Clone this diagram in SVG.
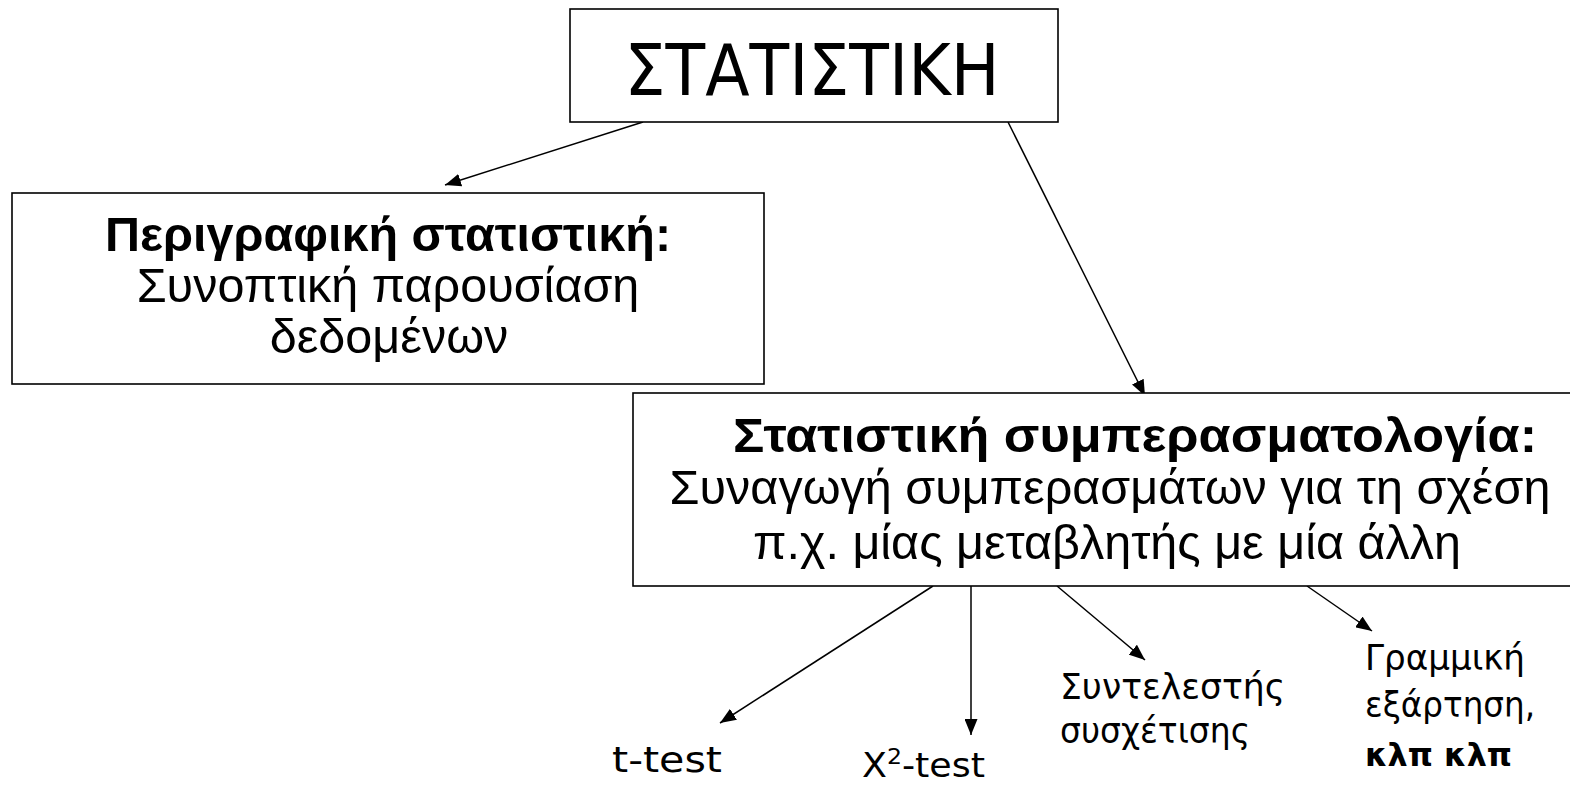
<svg xmlns="http://www.w3.org/2000/svg" width="1570" height="785" viewBox="0 0 1570 785">
<style>
.box{fill:#fff;stroke:#000;stroke-width:1.6}
.ar{stroke:#000;stroke-width:1.5;fill:none}
.sans{font-family:"Liberation Sans",Arial,sans-serif;fill:#000}
.b{font-weight:bold}
.comic{font-family:"Comic Sans MS","DejaVu Sans",sans-serif;fill:#000}
</style>
<defs>
<marker id="ah" markerUnits="userSpaceOnUse" markerWidth="17" markerHeight="13" refX="16" refY="6.5" orient="auto">
<path d="M0,0 L16,6.5 L0,13 z" fill="#000"/>
</marker>
</defs>
<rect width="1570" height="785" fill="#fff"/>
<g id="connectors">
<line class="ar" x1="643" y1="122" x2="445" y2="185" marker-end="url(#ah)"/>
<line class="ar" x1="1008" y1="122" x2="1145" y2="396" marker-end="url(#ah)"/>
<line class="ar" x1="933" y1="586" x2="720" y2="723" marker-end="url(#ah)"/>
<line class="ar" x1="971" y1="586" x2="971" y2="735" marker-end="url(#ah)"/>
<line class="ar" x1="1057" y1="586" x2="1145" y2="660" marker-end="url(#ah)"/>
<line class="ar" x1="1307" y1="586" x2="1372" y2="631" marker-end="url(#ah)"/>
</g>
<g id="statistiki">
<rect class="box" x="570" y="9" width="488" height="113"/>
<text class="sans" x="812" y="95" font-size="72" text-anchor="middle" style="font-family:'DejaVu Sans',sans-serif" textLength="375" lengthAdjust="spacingAndGlyphs">ΣΤΑΤΙΣΤΙΚΗ</text>
</g>
<g id="perigrafiki">
<rect class="box" x="12" y="193" width="752" height="191"/>
<text class="sans b" x="388" y="251" font-size="48.5" text-anchor="middle">Περιγραφική στατιστική:</text>
<text class="sans" x="388" y="302" font-size="48.5" text-anchor="middle">Συνοπτική παρουσίαση</text>
<text class="sans" x="389" y="353" font-size="48.5" text-anchor="middle">δεδομένων</text>
</g>
<g id="symperasmatologia">
<rect class="box" x="633" y="393" width="1010" height="193"/>
<text class="sans b" x="1135" y="452" font-size="48.5" text-anchor="middle" textLength="804" lengthAdjust="spacingAndGlyphs">Στατιστική συμπερασματολογία:</text>
<text class="sans" x="1110" y="504" font-size="48.5" text-anchor="middle">Συναγωγή συμπερασμάτων για τη σχέση</text>
<text class="sans" x="1107" y="559" font-size="48.5" text-anchor="middle">π.χ. μίας μεταβλητής με μία άλλη</text>
</g>
<g id="ttest">
<text class="comic" x="612" y="772" font-size="35" textLength="110" lengthAdjust="spacingAndGlyphs">t-test</text>
</g>
<g id="x2test">
<text class="comic" x="862" y="777" font-size="34" textLength="123" lengthAdjust="spacingAndGlyphs">X<tspan font-size="22" dy="-13">2</tspan><tspan dy="13">-test</tspan></text>
</g>
<g id="syntelestis">
<text class="comic" x="1060" y="699" font-size="35" textLength="225" lengthAdjust="spacingAndGlyphs">Συντελεστής</text>
<text class="comic" x="1060" y="743" font-size="35" textLength="190" lengthAdjust="spacingAndGlyphs">συσχέτισης</text>
</g>
<g id="grammiki">
<text class="comic" x="1365" y="670" font-size="35" textLength="160" lengthAdjust="spacingAndGlyphs">Γραμμική</text>
<text class="comic" x="1365" y="717" font-size="35" textLength="170" lengthAdjust="spacingAndGlyphs">εξάρτηση,</text>
<text class="comic b" x="1365" y="766" font-size="32" textLength="147" lengthAdjust="spacingAndGlyphs">κλπ κλπ</text>
</g>
</svg>
